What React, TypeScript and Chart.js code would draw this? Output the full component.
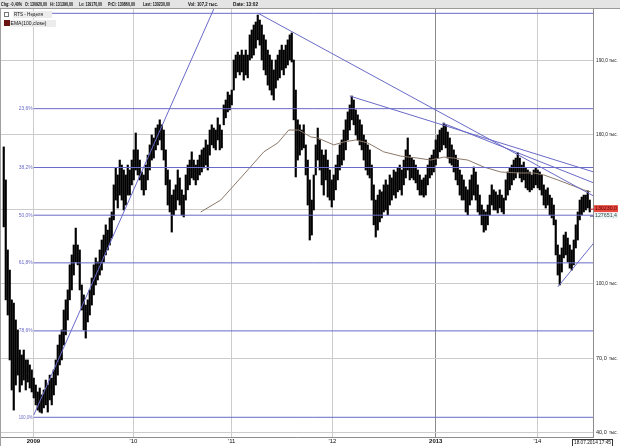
import React, { useEffect, useRef } from "react";
import { Chart, registerables } from "chart.js";

Chart.register(...registerables);

// Weekly bars (values in thousands), one per week from autumn 2008 to July 2014
const HIGHS = [
  155.1, 141.8, 113.6, 105.5, 93.5, 92.2, 85.4, 81.4, 73.3, 71.3,
  73.3, 69.3, 69.3, 67.3, 65.3, 62.0, 59.2, 56.4, 58.0, 55.2,
  57.2, 61.2, 59.2, 63.2, 62.0, 65.3, 69.3, 75.3, 79.4, 81.4,
  89.4, 93.5, 97.5, 107.6, 111.6, 115.6, 122.4, 115.6, 113.6, 99.5,
  95.5, 91.4, 93.5, 97.5, 102.3, 107.6, 110.4, 108.8, 113.6, 117.6,
  119.6, 123.7, 121.6, 126.5, 128.9, 139.8, 146.6, 143.8, 149.8, 147.8,
  145.8, 143.8, 147.8, 145.8, 149.8, 153.9, 160.7, 153.9, 149.8, 145.0,
  143.8, 147.8, 151.8, 155.9, 159.9, 158.7, 162.7, 164.0, 166.0, 164.0,
  161.9, 153.9, 145.8, 141.8, 135.7, 137.8, 139.8, 145.8, 142.6, 137.8,
  135.7, 143.8, 147.8, 149.8, 153.1, 149.8, 147.8, 149.8, 151.8, 153.9,
  154.7, 157.9, 155.9, 161.9, 164.0, 162.7, 161.9, 166.8, 164.0, 161.9,
  172.0, 174.0, 177.2, 176.0, 178.0, 190.1, 192.1, 193.3, 192.1, 194.1,
  192.1, 194.1, 192.1, 200.2, 202.2, 204.2, 205.4, 208.2, 206.2, 204.2,
  200.2, 198.2, 194.1, 192.1, 190.1, 186.1, 190.1, 192.1, 194.1, 196.1,
  194.1, 196.1, 198.2, 200.2, 201.0, 190.1, 178.0, 166.0, 164.0, 161.9,
  164.0, 155.9, 149.8, 141.8, 133.7, 143.8, 155.9, 162.7, 157.9, 153.9,
  151.8, 153.9, 149.8, 145.8, 141.8, 143.8, 147.8, 151.8, 155.9, 157.9,
  161.9, 166.0, 169.2, 172.0, 175.6, 174.0, 170.0, 168.0, 166.0, 164.0,
  159.9, 157.9, 155.9, 153.9, 147.8, 139.8, 133.7, 135.7, 137.8, 137.0,
  139.8, 141.8, 139.8, 143.8, 142.6, 145.8, 145.0, 146.6, 147.8, 145.8,
  149.8, 153.9, 158.7, 151.8, 150.6, 149.8, 147.8, 145.8, 143.8, 141.8,
  142.6, 143.8, 147.8, 150.6, 151.8, 153.9, 157.9, 159.9, 161.9, 162.7,
  164.7, 164.0, 161.1, 158.7, 155.9, 153.9, 151.8, 149.8, 145.8, 143.8,
  141.8, 139.0, 137.8, 141.8, 143.8, 147.0, 145.0, 139.8, 135.7, 131.7,
  129.7, 128.9, 131.7, 135.7, 139.8, 137.8, 137.0, 135.7, 137.8, 135.7,
  134.5, 141.8, 145.0, 146.6, 147.8, 149.8, 150.6, 152.7, 150.6, 147.8,
  149.0, 146.6, 145.8, 145.0, 143.8, 145.8, 146.6, 145.8, 145.0, 143.8,
  139.8, 137.8, 138.6, 135.7, 134.5, 131.7, 125.7, 115.6, 111.6, 114.4,
  119.6, 120.8, 118.4, 115.6, 113.6, 117.6, 123.7, 128.9, 133.7, 134.9,
  135.7, 135.7, 137.4, 133.7,
];

const LOWS = [
  122.9, 93.5, 87.4, 69.3, 57.2, 49.1, 59.2, 63.2, 56.4, 59.2,
  61.2, 57.2, 60.4, 58.0, 56.4, 54.0, 51.2, 49.1, 48.3, 47.9,
  50.0, 51.2, 48.3, 53.2, 51.2, 55.2, 59.2, 63.2, 67.3, 69.3,
  75.3, 79.4, 85.4, 93.5, 97.5, 103.5, 108.8, 107.6, 97.5, 89.4,
  81.4, 78.1, 84.6, 87.4, 91.4, 95.5, 99.5, 101.5, 103.5, 105.5,
  108.8, 111.6, 113.6, 115.6, 118.4, 125.7, 133.7, 130.5, 135.7, 133.7,
  129.7, 131.7, 135.7, 135.7, 139.8, 141.8, 145.8, 143.8, 141.8, 137.8,
  135.7, 137.8, 141.8, 145.8, 149.8, 150.6, 153.9, 155.9, 157.9, 153.9,
  149.8, 139.8, 131.7, 128.9, 120.8, 127.7, 129.7, 133.7, 131.7, 127.7,
  126.9, 133.7, 137.8, 139.8, 142.6, 141.8, 139.8, 141.8, 143.8, 145.0,
  146.6, 147.8, 145.8, 151.8, 155.9, 154.7, 153.9, 157.9, 153.9, 154.7,
  164.0, 166.8, 169.2, 170.0, 172.0, 178.0, 182.9, 185.3, 184.1, 185.3,
  182.0, 184.1, 182.9, 190.1, 190.9, 192.1, 194.9, 198.2, 196.1, 190.1,
  186.1, 184.1, 180.0, 178.0, 176.0, 174.0, 178.8, 182.0, 182.9, 186.1,
  184.1, 186.9, 188.1, 190.1, 189.3, 166.0, 143.0, 149.8, 151.8, 153.9,
  154.7, 143.8, 131.7, 117.6, 119.6, 129.7, 143.8, 149.8, 145.8, 139.8,
  135.7, 141.8, 134.9, 133.7, 130.9, 133.7, 137.8, 141.8, 145.8, 147.8,
  149.8, 153.9, 157.9, 161.9, 166.0, 164.0, 159.9, 157.9, 155.9, 153.9,
  149.8, 145.8, 143.8, 142.6, 133.7, 123.7, 118.8, 121.6, 124.9, 126.5,
  128.9, 129.7, 127.7, 131.7, 133.7, 135.7, 134.5, 137.0, 137.8, 135.7,
  139.8, 142.6, 145.8, 141.8, 142.6, 141.8, 140.6, 137.8, 135.7, 135.7,
  134.9, 135.7, 139.8, 142.6, 143.8, 145.0, 147.8, 150.6, 153.1, 153.9,
  155.9, 154.7, 150.6, 148.6, 147.8, 145.0, 141.8, 139.8, 135.7, 133.7,
  133.7, 128.9, 127.7, 131.7, 133.7, 135.7, 133.7, 128.9, 127.7, 123.7,
  120.8, 121.6, 123.7, 127.7, 131.7, 129.7, 129.7, 128.5, 130.5, 128.9,
  128.1, 133.7, 135.7, 137.8, 139.8, 141.8, 142.6, 145.0, 142.6, 141.0,
  141.8, 138.6, 137.8, 137.0, 137.8, 138.6, 139.8, 138.6, 137.8, 135.7,
  131.7, 130.5, 131.7, 127.7, 126.5, 123.7, 111.6, 103.5, 99.5, 104.7,
  110.4, 111.6, 108.8, 106.3, 105.5, 107.6, 114.4, 117.6, 125.7, 127.7,
  128.9, 129.7, 130.5, 128.9,
];

// EMA(100, close): week index and value
const EMA_WEEK = [98.5, 108.5, 122, 130, 137, 142.5, 147.5, 153.5, 157, 165, 170, 176, 182, 190, 198.5, 207, 213.5, 220, 225, 232, 240, 248.5, 257, 265, 270, 277, 283.5, 290, 293.5];
const EMA_VALUE = [128.9, 133.7, 145.8, 153.1, 156.7, 161.9, 161.9, 159.1, 158.7, 155.9, 157.1, 157.9, 156.7, 153.1, 151.4, 150.6, 149.8, 151.0, 150.6, 149.8, 147.0, 145.0, 144.6, 144.6, 143.8, 141.8, 139.8, 137.8, 137.0];

// Year ticks (week index of each year start) and their labels
const YEAR_WEEKS = [14.85, 64.85, 114, 164.35, 216, 266.85];
const YEAR_LABELS = ["2009", "'10", "'11", "'12", "2013", "'14"];
const Y_TICKS = [40, 70, 100, 130, 160, 190];

// Fibonacci retracement levels
const FIB_LABELS = ["0,0%", "23,6%", "38,2%", "50,0%", "61,8%", "78,6%", "100,0%"];
const FIB_LEVELS = [208.9, 170.5, 146.8, 127.6, 108.4, 81.0, 46.2];
const FIB_START_WEEK = 15;

// Trend lines: [week, value] pairs
const TREND_1 = [[15, 47.1], [105, 210.6]];
const TREND_2 = [[127, 209.0], [295, 135.3]];
const TREND_3 = [[173, 175.6], [295, 145.0]];
const TREND_4 = [[219.5, 164.7], [295, 140.6]];
const TREND_5 = [[277, 98.7], [295, 116.4]];

const LAST_PRICE = 130.23;
const LAST_LABEL = "130230,0";
const EMA_LAST = 127.6514;
const EMA_LABEL = "127651,4";

const HEADER = [
  ["Chg: -0,40%", 1, 21],
  ["O: 130920,00", 25, 22],
  ["Hi: 131390,00", 50, 23],
  ["Lo: 129170,00", 79, 23],
  ["PrCl: 130860,00", 108, 27],
  ["Last: 130230,00", 143, 27],
  ["Vol: 107,2 тыс.", 188, 30],
  ["Date: 13:02", 233, 25],
];

const BLUE = "#6a6ac8";
const FONT = "'Liberation Sans', 'DejaVu Sans', sans-serif";

const overlay = {
  id: "overlay",
  afterDraw(chart: any) {
    const ctx = chart.ctx as CanvasRenderingContext2D;
    const xs = chart.scales.x;
    const ys = chart.scales.y;
    const ca = chart.chartArea;
    ctx.save();

    // fib labels
    ctx.font = `5px ${FONT}`;
    ctx.fillStyle = BLUE;
    ctx.textAlign = "right";
    ctx.textBaseline = "middle";
    const fx = xs.getPixelForValue(FIB_START_WEEK) - 1;
    FIB_LEVELS.forEach((lv, i) => {
      ctx.fillText(FIB_LABELS[i], fx, ys.getPixelForValue(lv), 14);
    });

    // right axis labels
    ctx.textAlign = "left";
    ctx.fillStyle = "#222";
    Y_TICKS.forEach((v) => {
      let y = ys.getPixelForValue(v);
      if (y > ca.bottom - 3) y = ca.bottom - 4;
      ctx.font = `5.5px ${FONT}`;
      const txt = v.toFixed(1).replace(".", ",");
      ctx.fillText(txt, 596, y, 12);
      ctx.font = `4.5px ${FONT}`;
      ctx.fillText("тыс.", 609, y + 0.5, 9);
    });

    // price tags
    const yp = ys.getPixelForValue(LAST_PRICE);
    ctx.fillStyle = "#e8493f";
    ctx.fillRect(594, yp - 3.5, 24, 7);
    ctx.strokeStyle = "#c03030";
    ctx.beginPath();
    ctx.moveTo(590, yp + 0.5);
    ctx.lineTo(594, yp + 0.5);
    ctx.stroke();
    ctx.fillStyle = "#5a0000";
    ctx.font = `5.5px ${FONT}`;
    ctx.fillText(LAST_LABEL, 595, yp, 22);

    const ye = Math.max(ys.getPixelForValue(EMA_LAST), yp + 7);
    ctx.fillStyle = "#eef4f4";
    ctx.fillRect(594, ye - 3, 24, 6);
    ctx.strokeStyle = "#558";
    ctx.beginPath();
    ctx.moveTo(590, ye + 0.5);
    ctx.lineTo(594, ye + 0.5);
    ctx.stroke();
    ctx.fillStyle = "#2a5050";
    ctx.fillText(EMA_LABEL, 595, ye, 22);

    // header bar
    ctx.fillStyle = "#e4e4e4";
    ctx.fillRect(0, 0, 620, 8);
    ctx.strokeStyle = "#9a9a9a";
    ctx.beginPath();
    ctx.moveTo(0, 8.5);
    ctx.lineTo(620, 8.5);
    ctx.stroke();
    ctx.fillStyle = "#111";
    ctx.font = `bold 6px ${FONT}`;
    ctx.textAlign = "left";
    ctx.textBaseline = "middle";
    HEADER.forEach(([t, x, w]) => ctx.fillText(t as string, x as number, 4.5, w as number));

    // legend
    ctx.fillStyle = "#ececec";
    ctx.fillRect(13, 11, 39, 7);
    ctx.fillRect(10, 20, 46, 7);
    ctx.strokeStyle = "#777";
    ctx.strokeRect(4.5, 12.5, 4, 4);
    ctx.fillStyle = "#6b1414";
    ctx.fillRect(4, 20, 6, 6);
    ctx.fillStyle = "#111";
    ctx.font = `5.5px ${FONT}`;
    ctx.fillText("RTS - Неделя", 14, 14.5, 29);
    ctx.fillText("EMA(100,close)", 10.5, 23.5, 36);

    // left frame band
    ctx.fillStyle = "#a0a0a0";
    ctx.fillRect(0, 9, 1, 437);

    // date box
    ctx.fillStyle = "#fff";
    ctx.fillRect(572, 439, 41, 7);
    ctx.strokeStyle = "#333";
    ctx.strokeRect(572.5, 439.5, 40, 7);
    ctx.fillStyle = "#111";
    ctx.font = `5px ${FONT}`;
    ctx.fillText("18.07.2014 17:45", 574, 443, 37);

    ctx.restore();
  },
};

const pts = (arr: number[][]) => arr.map(([x, y]) => ({ x, y }));

export default function App() {
  const ref = useRef<HTMLCanvasElement>(null);

  useEffect(() => {
    const bars = HIGHS.map((h, i) => ({ x: i, y: [LOWS[i], h] }));
    const ema = EMA_WEEK.map((w, i) => ({ x: w, y: EMA_VALUE[i] }));
    const fibSets = FIB_LEVELS.map((lv) => ({
      type: "line" as const,
      data: [{ x: FIB_START_WEEK, y: lv }, { x: 295, y: lv }],
      borderColor: BLUE,
      borderWidth: 1,
      pointRadius: 0,
      order: 1,
    }));
    const trendSets = [TREND_1, TREND_2, TREND_3, TREND_4, TREND_5].map((t) => ({
      type: "line" as const,
      data: pts(t),
      borderColor: BLUE,
      borderWidth: 1,
      pointRadius: 0,
      order: 0,
    }));

    const chart = new Chart(ref.current!, {
      type: "bar",
      data: {
        datasets: [
          {
            type: "bar",
            data: bars as any,
            backgroundColor: "#000",
            borderWidth: 0,
            barThickness: 1.5,
            grouped: false,
            order: 3,
          } as any,
          {
            type: "line",
            data: ema,
            borderColor: "#8a7868",
            borderWidth: 1,
            pointRadius: 0,
            order: 2,
          } as any,
          ...fibSets,
          ...trendSets,
        ],
      },
      options: {
        responsive: false,
        animation: false,
        devicePixelRatio: 1,
        layout: { padding: { left: 1, top: 9, right: 0, bottom: 0 } },
        plugins: { legend: { display: false }, tooltip: { enabled: false } },
        scales: {
          x: {
            type: "linear",
            offset: false,
            min: -1.375,
            max: 294.625,
            afterBuildTicks: (s: any) => {
              s.ticks = YEAR_WEEKS.map((v) => ({ value: v }));
            },
            afterFit: (s: any) => {
              s.height = 9;
            },
            grid: {
              offset: false,
              color: (c: any) => (c.index === 4 ? "#8a8a8a" : "#cccccc"),
              drawTicks: false,
            },
            border: { display: true, color: "#8c8c8c" },
            ticks: {
              autoSkip: false,
              maxRotation: 0,
              padding: 1,
              color: "#111",
              font: (c: any) => ({
                size: 6,
                family: FONT,
                weight: c.index === 0 || c.index === 4 ? "bold" : "normal",
              }),
              callback: (_v: any, i: number) => YEAR_LABELS[i],
            },
          },
          y: {
            type: "linear",
            position: "right",
            min: 38.27,
            max: 210.64,
            afterBuildTicks: (s: any) => {
              s.ticks = Y_TICKS.map((v) => ({ value: v }));
            },
            afterFit: (s: any) => {
              s.width = 27;
            },
            grid: { color: "#cccccc", drawTicks: false },
            border: { display: true, color: "#8c8c8c" },
            ticks: { display: false },
          },
        },
      } as any,
      plugins: [overlay],
    });
    return () => chart.destroy();
  }, []);

  return (
    <div style={{ position: "fixed", left: 0, top: 0, width: 620, height: 446, background: "#fff" }}>
      <canvas ref={ref} width={620} height={446} style={{ display: "block", width: 620, height: 446 }} />
    </div>
  );
}
